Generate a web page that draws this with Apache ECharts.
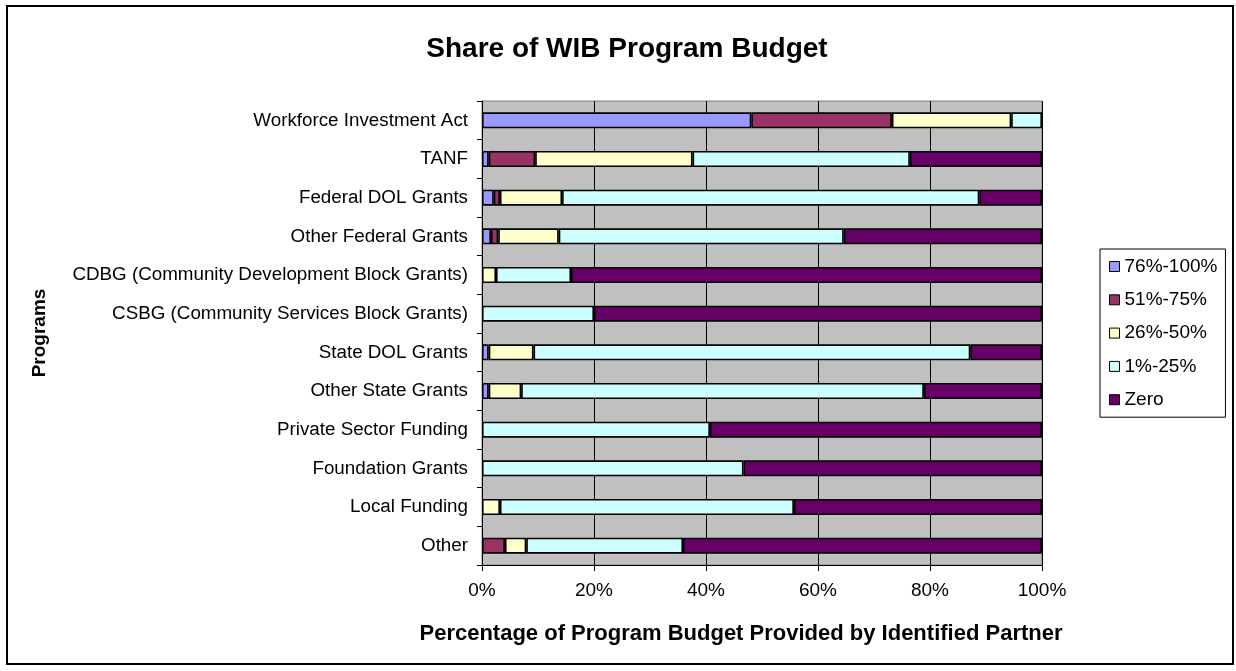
<!DOCTYPE html>
<html>
<head>
<meta charset="utf-8">
<title>Share of WIB Program Budget</title>
<script src="https://cdn.jsdelivr.net/npm/echarts@6/dist/echarts.min.js"></script>
<style>
  html, body { margin: 0; padding: 0; background: #fff; }
  #chart { width: 1236px; height: 671px; }
</style>
</head>
<body>
<div id="chart"></div>
<script>
// Funding programs, listed top to bottom
const categories = [
  'Workforce Investment Act',
  'TANF',
  'Federal DOL Grants',
  'Other Federal Grants',
  'CDBG (Community Development Block Grants)',
  'CSBG (Community Services Block Grants)',
  'State DOL Grants',
  'Other State Grants',
  'Private Sector Funding',
  'Foundation Grants',
  'Local Funding',
  'Other'
];

// Percent of each program's budget, by share provided by the identified partner
const share76to100 = [48.1, 1.2, 2.1, 1.6, 0, 0, 1.2, 1.2, 0, 0, 0, 0];
const share51to75  = [25.1, 8.3, 1.1, 1.3, 0, 0, 0, 0, 0, 0, 0, 4.1];
const share26to50  = [21.3, 28.1, 11.1, 10.8, 2.5, 0, 8.0, 5.8, 0, 0, 3.2, 3.8];
const share1to25   = [5.5, 38.8, 74.5, 50.9, 13.4, 20.0, 78.0, 71.9, 40.7, 46.7, 52.5, 28.0];
const shareZero    = [0, 23.6, 11.2, 35.4, 84.1, 80.0, 12.8, 21.1, 59.3, 53.3, 44.3, 64.1];

const seriesNames = ['76%-100%', '51%-75%', '26%-50%', '1%-25%', 'Zero'];
const seriesValues = [share76to100, share51to75, share26to50, share1to25, shareZero];
const seriesColors = ['#9999FF', '#993366', '#FFFFCC', '#CCFFFF', '#660066'];

const xTicks = { min: 0, max: 100, step: 20 };

const FONT = '"Liberation Sans", Arial, sans-serif';

const chart = echarts.init(document.getElementById('chart'), null, { renderer: 'canvas' });

const series = seriesNames.map((name, i) => ({
  name: name,
  type: 'bar',
  stack: 'total',
  barWidth: 16,
  // empty segments are skipped so they leave no stray outline
  data: seriesValues[i].map(v => (v > 0 ? v : '-')),
  itemStyle: { color: seriesColors[i], borderColor: '#000', borderWidth: 1.6 },
  emphasis: { disabled: true }
}));

chart.setOption({
  animation: false,
  backgroundColor: '#ffffff',
  textStyle: { fontFamily: FONT },
  title: {
    text: 'Share of WIB Program Budget',
    left: 622,
    top: 30,
    textAlign: 'center',
    textStyle: { fontFamily: FONT, fontSize: 28, fontWeight: 'bold', color: '#000' }
  },
  grid: {
    left: 482, top: 101, right: 194, bottom: 106,
    show: true, backgroundColor: '#C0C0C0', borderColor: '#808080', borderWidth: 1
  },
  legend: {
    orient: 'vertical',
    left: 1100,
    top: 249,
    width: 128,
    padding: [8, 8, 8, 9],
    itemWidth: 10,
    itemHeight: 10,
    itemGap: 14.3,
    icon: 'rect',
    borderColor: '#000',
    borderWidth: 1,
    backgroundColor: '#fff',
    selectedMode: false,
    itemStyle: { borderColor: '#000', borderWidth: 1 },
    textStyle: { fontFamily: FONT, fontSize: 19, lineHeight: 19, color: '#000' },
    data: seriesNames
  },
  xAxis: {
    type: 'value',
    min: xTicks.min,
    max: xTicks.max,
    interval: xTicks.step,
    axisLine: { show: true, lineStyle: { color: '#000', width: 1 } },
    axisTick: { show: true, length: 6, lineStyle: { color: '#000' } },
    axisLabel: { formatter: '{value}%', fontFamily: FONT, fontSize: 19, color: '#000', margin: 16 },
    splitLine: { show: true, lineStyle: { color: '#000', width: 1 } }
  },
  yAxis: {
    type: 'category',
    inverse: true,
    data: categories,
    axisLine: { show: true, lineStyle: { color: '#000', width: 1 } },
    axisTick: { show: true, length: 5, inside: false, lineStyle: { color: '#000' } },
    axisLabel: { fontFamily: FONT, fontSize: 18.8, color: '#000', margin: 14 },
    splitLine: { show: false }
  },
  graphic: [
    {
      type: 'rect',
      shape: { x: 7, y: 6, width: 1226, height: 658 },
      style: { fill: 'none', stroke: '#000', lineWidth: 2 },
      silent: true
    },
    {
      type: 'text',
      x: 741, y: 634,
      style: {
        text: 'Percentage of Program Budget Provided by Identified Partner',
        font: 'bold 22px ' + FONT,
        fill: '#000',
        align: 'center',
        verticalAlign: 'middle'
      }
    },
    {
      type: 'text',
      x: 40, y: 333,
      rotation: Math.PI / 2,
      style: {
        text: 'Programs',
        font: 'bold 19px ' + FONT,
        fill: '#000',
        align: 'center',
        verticalAlign: 'middle'
      }
    }
  ],
  series: series
});
</script>
</body>
</html>
